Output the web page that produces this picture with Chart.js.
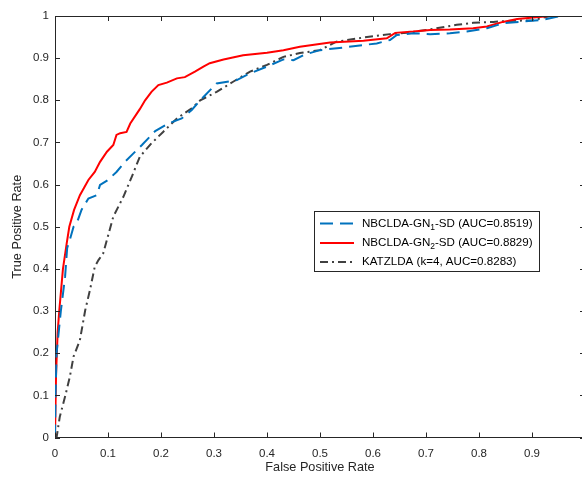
<!DOCTYPE html>
<html>
<head>
<meta charset="utf-8">
<script src="https://cdn.jsdelivr.net/npm/chart.js@4.4.1/dist/chart.umd.min.js"></script>
<style>
    html, body { margin: 0; padding: 0; background: #fff; overflow: hidden; }
    #wrap { width: 600px; height: 477px; }
</style>
</head>
<body>
<div id="wrap"><canvas id="rocChart" width="600" height="477"></canvas></div>
<script>
"use strict";

// ROC curves
const fprGn1 = [0, 0.001, 0.003, 0.011, 0.019, 0.023, 0.028, 0.035, 0.041, 0.05,
    0.063, 0.079, 0.085, 0.10, 0.116, 0.132, 0.148, 0.164, 0.189, 0.214,
    0.239, 0.258, 0.274, 0.305, 0.343, 0.368, 0.40, 0.431, 0.45, 0.47,
    0.50, 0.55, 0.607, 0.632, 0.645, 0.676, 0.708, 0.745, 0.777, 0.815,
    0.846, 0.921, 0.953, 1];
const tprGn1 = [0, 0.1, 0.2, 0.3, 0.381, 0.45, 0.469, 0.5, 0.508, 0.54,
    0.567, 0.575, 0.599, 0.611, 0.63, 0.654, 0.674, 0.694, 0.727, 0.745,
    0.757, 0.777, 0.80, 0.84, 0.848, 0.864, 0.88, 0.897, 0.895, 0.908,
    0.919, 0.926, 0.935, 0.943, 0.955, 0.959, 0.957, 0.959, 0.963, 0.971,
    0.983, 0.991, 1, 1];

const fprGn2 = [0, 0.002, 0.005, 0.008, 0.015, 0.022, 0.027, 0.036, 0.047, 0.063,
    0.075, 0.085, 0.098, 0.11, 0.116, 0.123, 0.135, 0.142, 0.16, 0.17,
    0.182, 0.195, 0.211, 0.23, 0.245, 0.264, 0.28, 0.292, 0.318, 0.355,
    0.40, 0.431, 0.462, 0.519, 0.582, 0.626, 0.642, 0.676, 0.708, 0.745,
    0.789, 0.815, 0.845, 0.872, 0.934, 1];
const tprGn2 = [0, 0.15, 0.25, 0.3, 0.4, 0.46, 0.5, 0.54, 0.575, 0.611,
    0.63, 0.654, 0.678, 0.694, 0.718, 0.722, 0.725, 0.745, 0.779, 0.8,
    0.82, 0.836, 0.842, 0.852, 0.855, 0.868, 0.88, 0.888, 0.897, 0.907,
    0.913, 0.919, 0.927, 0.937, 0.941, 0.947, 0.96, 0.963, 0.967, 0.968,
    0.971, 0.975, 0.986, 0.993, 1, 1];

const fprKatz = [0, 0.003, 0.009, 0.019, 0.028, 0.035, 0.047, 0.057, 0.066, 0.075,
    0.082, 0.091, 0.098, 0.11, 0.129, 0.145, 0.16, 0.182, 0.204, 0.23,
    0.258, 0.274, 0.305, 0.336, 0.368, 0.40, 0.431, 0.462, 0.50, 0.531,
    0.582, 0.632, 0.664, 0.701, 0.758, 0.789, 0.827, 0.852, 0.902, 0.934, 1];
const tprKatz = [0, 0, 0.049, 0.097, 0.144, 0.192, 0.231, 0.302, 0.35, 0.405,
    0.421, 0.437, 0.469, 0.524, 0.571, 0.619, 0.666, 0.698, 0.725, 0.757,
    0.781, 0.80, 0.82, 0.844, 0.868, 0.884, 0.903, 0.912, 0.919, 0.939,
    0.949, 0.957, 0.96, 0.967, 0.979, 0.984, 0.986, 0.988, 0.99, 1, 1];

// legend text: [before subscript, subscript, after subscript]
const seriesNames = [
    ['NBCLDA-GN', '1', '-SD (AUC=0.8519)'],
    ['NBCLDA-GN', '2', '-SD (AUC=0.8829)'],
    ['KATZLDA (k=4, AUC=0.8283)', '', '']
];
const seriesColors = ['#0072BD', '#FF0000', '#404040'];
const seriesDashes = [[13, 7], [], [8, 4, 2, 4]];

const axisColor = '#262626';
const fontFamily = '"Liberation Sans", Arial, sans-serif';

const toPoints = (xs, ys) => xs.map((x, i) => ({x: x, y: ys[i]}));

// box on the top and right plus MATLAB style inward ticks
const boxTicks = {
    id: 'boxTicks',
    afterDraw: (chart) => {
        const {ctx, chartArea: area, scales} = chart;
        const len = 5;
        ctx.save();
        ctx.strokeStyle = axisColor;
        ctx.lineWidth = 1;
        ctx.beginPath();
        ctx.moveTo(area.left, area.top + 0.5);
        ctx.lineTo(area.right, area.top + 0.5);
        ctx.moveTo(area.right + 0.5, area.top);
        ctx.lineTo(area.right + 0.5, area.bottom);
        scales.x.ticks.forEach(t => {
            const px = Math.round(scales.x.getPixelForValue(t.value)) + 0.5;
            ctx.moveTo(px, area.bottom);
            ctx.lineTo(px, area.bottom - len);
            ctx.moveTo(px, area.top);
            ctx.lineTo(px, area.top + len);
        });
        scales.y.ticks.forEach(t => {
            const py = Math.round(scales.y.getPixelForValue(t.value)) + 0.5;
            ctx.moveTo(area.left, py);
            ctx.lineTo(area.left + len, py);
            ctx.moveTo(area.right, py);
            ctx.lineTo(area.right - len, py);
        });
        ctx.stroke();
        ctx.restore();
    }
};

// legend drawn by hand so the subscripts can be placed
const subLegend = {
    id: 'subLegend',
    afterDraw: (chart) => {
        const ctx = chart.ctx;
        const box = {left: 314.5, top: 211.5, width: 225, height: 60};
        const rowY = [223.5, 243, 262];
        ctx.save();
        ctx.fillStyle = '#fff';
        ctx.fillRect(box.left, box.top, box.width, box.height);
        ctx.strokeStyle = axisColor;
        ctx.lineWidth = 1;
        ctx.strokeRect(box.left, box.top, box.width, box.height);

        seriesNames.forEach((name, i) => {
            const y = rowY[i];
            ctx.beginPath();
            ctx.setLineDash(seriesDashes[i]);
            ctx.strokeStyle = seriesColors[i];
            ctx.lineWidth = 2;
            ctx.moveTo(320, y);
            ctx.lineTo(354, y);
            ctx.stroke();
            ctx.setLineDash([]);

            ctx.fillStyle = '#000';
            ctx.textBaseline = 'middle';
            ctx.textAlign = 'left';
            let x = 362;
            ctx.font = '11.6px ' + fontFamily;
            ctx.fillText(name[0], x, y);
            x += ctx.measureText(name[0]).width;
            if (name[1]) {
                ctx.font = '8.5px ' + fontFamily;
                ctx.fillText(name[1], x, y + 4);
                x += ctx.measureText(name[1]).width;
                ctx.font = '11.6px ' + fontFamily;
                ctx.fillText(name[2], x, y);
            }
        });
        ctx.restore();
    }
};

const tickLabel = (v) => {
    const r = Number(Number(v).toFixed(1));
    return String(r);
};

const makeDataset = (label, xs, ys, i) => ({
    label: label,
    data: toPoints(xs, ys),
    borderColor: seriesColors[i],
    borderWidth: 2,
    borderDash: seriesDashes[i],
    pointRadius: 0,
    tension: 0,
    fill: false
});

const chart = new Chart(document.getElementById('rocChart'), {
    type: 'line',
    data: {
        datasets: [
            makeDataset('GN1', fprGn1, tprGn1, 0),
            makeDataset('GN2', fprGn2, tprGn2, 1),
            makeDataset('KATZ', fprKatz, tprKatz, 2)
        ]
    },
    options: {
        responsive: false,
        animation: false,
        layout: {padding: {top: 16, right: 15, left: 0, bottom: 0}},
        plugins: {
            legend: {display: false},
            tooltip: {enabled: false}
        },
        scales: {
            x: {
                type: 'linear',
                min: 0,
                max: 1,
                afterFit: (scale) => { scale.height = 39.5; },
                grid: {display: false, drawTicks: false},
                border: {display: true, color: axisColor, width: 1},
                ticks: {
                    stepSize: 0.1,
                    padding: 9,
                    maxRotation: 0,
                    color: axisColor,
                    font: {family: fontFamily, size: 11.5},
                    callback: tickLabel
                },
                title: {
                    display: true,
                    text: 'False Positive Rate',
                    color: axisColor,
                    font: {family: fontFamily, size: 12.7},
                    padding: {top: 0, bottom: 2}
                }
            },
            y: {
                type: 'linear',
                min: 0,
                max: 1,
                afterFit: (scale) => { scale.width = 55; },
                grid: {display: false, drawTicks: false},
                border: {display: true, color: axisColor, width: 1},
                ticks: {
                    stepSize: 0.1,
                    padding: 6,
                    color: axisColor,
                    font: {family: fontFamily, size: 11.5},
                    callback: tickLabel
                },
                title: {
                    display: true,
                    text: 'True Positive Rate',
                    color: axisColor,
                    font: {family: fontFamily, size: 12.7},
                    padding: {top: 10, bottom: 0}
                }
            }
        }
    },
    plugins: [boxTicks, subLegend]
});
</script>
</body>
</html>
